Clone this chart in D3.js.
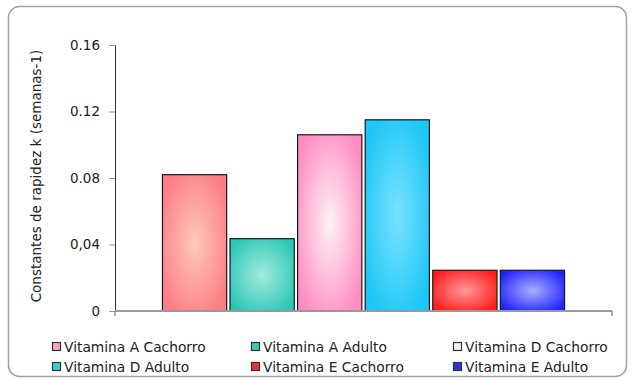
<!DOCTYPE html>
<html>
<head>
<meta charset="utf-8">
<script src="https://cdn.jsdelivr.net/npm/d3@7"></script>
<style>
  body { margin: 0; background: #fff; }
  svg text { font-family: "DejaVu Sans", Verdana, sans-serif; fill: #222; }
</style>
</head>
<body>
<div id="chart"></div>
<script>
// series shown as bars (one category, six series)
var series = ["Vitamina A Cachorro", "Vitamina A Adulto", "Vitamina D Cachorro",
              "Vitamina D Adulto", "Vitamina E Cachorro", "Vitamina E Adulto"];
var values = [0.082, 0.0435, 0.106, 0.115, 0.0245, 0.0245];
var tickValues = [0, 0.04, 0.08, 0.12, 0.16];
var tickLabels = ["0", "0,04", "0.08", "0.12", "0.16"];
var yTitle = "Constantes de rapidez k (semanas-1)";

var edgeColors   = ["#fb7d86", "#2cc8b6", "#ff8dc2", "#1cc6f6", "#ff1c1c", "#2222fc"];
var centerColors = ["#ffc9bc", "#a4eadf", "#fff2f6", "#7ae2ff", "#ff9a9a", "#a8b0ff"];
var legendColors = ["#f4a6b6", "#3cc8b4", "#f6eef2", "#38d0d8", "#f03040", "#3030e8"];

var config = {
    width: 631,
    height: 381,
    left: 115,
    right: 612,
    top: 45,
    bottom: 311
};

var svg = d3.select("#chart").append("svg")
    .attr("width", config.width)
    .attr("height", config.height);

// outer frame
svg.append("rect")
    .attr("x", 8.5).attr("y", 6.5)
    .attr("width", 618).attr("height", 370)
    .attr("rx", 11).attr("ry", 11)
    .attr("fill", "#fff")
    .attr("stroke", "#a4a4a4")
    .attr("stroke-width", 1.5);

var defs = svg.append("defs");
series.forEach(function(s, i) {
    var g = defs.append("radialGradient")
        .attr("id", "grad" + i)
        .attr("cx", "50%").attr("cy", "50%").attr("r", "60%");
    g.append("stop").attr("offset", "0%").attr("stop-color", centerColors[i]);
    g.append("stop").attr("offset", "100%").attr("stop-color", edgeColors[i]);
});

var y = d3.scaleLinear()
    .domain([0, 0.16])
    .range([config.bottom, config.top]);

var x0 = d3.scaleBand()
    .domain([""])
    .range([config.left, config.right])
    .paddingOuter(0.118);

var x1 = d3.scaleBand()
    .domain(series)
    .range([0, x0.bandwidth()])
    .paddingInner(0.05);

// y axis
var yAxis = d3.axisLeft(y)
    .tickValues(tickValues)
    .tickSize(6)
    .tickPadding(9)
    .tickFormat(function(d, i) { return tickLabels[i]; });

var gy = svg.append("g")
    .attr("transform", "translate(" + config.left + ",0)")
    .call(yAxis);
gy.select(".domain").attr("stroke", "#333").attr("stroke-width", 1);
gy.selectAll(".tick line").attr("stroke", "#999");
gy.selectAll(".tick text").attr("font-size", 13.5).attr("fill", "#222");

// bars
svg.selectAll("rect.bar")
    .data(values)
    .enter().append("rect")
    .classed("bar", true)
    .attr("x", function(d, i) { return x0("") + x1(series[i]); })
    .attr("y", function(d) { return y(d); })
    .attr("width", x1.bandwidth())
    .attr("height", function(d) { return y(0) - y(d); })
    .attr("fill", function(d, i) { return "url(#grad" + i + ")"; })
    .attr("stroke", "#1a1a1a")
    .attr("stroke-width", 1.2);

// x axis line
svg.append("line")
    .attr("x1", config.left).attr("x2", config.right)
    .attr("y1", y(0)).attr("y2", y(0))
    .attr("stroke", "#999").attr("stroke-width", 2);
[config.left, config.right].forEach(function(px) {
    svg.append("line")
        .attr("x1", px).attr("x2", px)
        .attr("y1", y(0)).attr("y2", y(0) + 5)
        .attr("stroke", "#666");
});

// y title
svg.append("text")
    .attr("transform", "translate(41," + ((config.top + config.bottom) / 2 - 2) + ") rotate(-90)")
    .attr("text-anchor", "middle")
    .attr("font-size", 13.5)
    .text(yTitle);

// legend, 3 columns x 2 rows
var legendX = [52, 251, 453];
var legendY = [347, 367];
var legend = svg.selectAll("g.legend")
    .data(series)
    .enter().append("g")
    .classed("legend", true)
    .attr("transform", function(d, i) {
        return "translate(" + legendX[i % 3] + "," + legendY[Math.floor(i / 3)] + ")";
    });
legend.append("rect")
    .attr("x", 0.5).attr("y", -4.5)
    .attr("width", 8).attr("height", 8)
    .attr("fill", function(d, i) { return legendColors[i]; })
    .attr("stroke", "#333").attr("stroke-width", 1.2);
legend.append("text")
    .attr("x", 12)
    .attr("y", 0)
    .attr("dy", "0.35em")
    .attr("font-size", 13.8)
    .text(function(d) { return d; });
</script>
</body>
</html>
